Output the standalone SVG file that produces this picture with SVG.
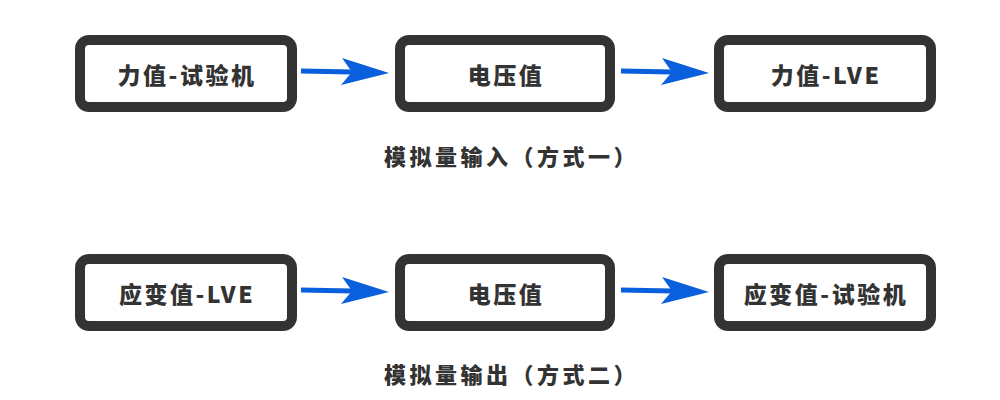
<svg xmlns="http://www.w3.org/2000/svg" width="1000" height="400" viewBox="0 0 1000 400">
<style>
.box{fill:#fff;stroke:#333;stroke-width:10}
.lbl{font-family:"Noto Sans CJK SC","Noto Sans",sans-serif;font-weight:900;font-size:23px;fill:#333;text-anchor:middle;dominant-baseline:central;letter-spacing:2.5px}
.cap{font-family:"Noto Sans CJK SC","Noto Sans",sans-serif;font-weight:900;font-size:22px;fill:#333;text-anchor:middle;dominant-baseline:central;letter-spacing:3.5px}
.ln{stroke:#0a5fdc;stroke-width:5;fill:none}
.ah{fill:#0a5fdc}
</style>
<rect width="1000" height="400" fill="#fff"/>
<g id="n1"><rect class="box" x="80" y="40" width="212" height="67" rx="9"/><text class="lbl" x="187" y="74">力值-试验机</text></g>
<g id="n2"><rect class="box" x="400" y="40" width="210" height="67" rx="9"/><text class="lbl" x="506" y="74">电压值</text></g>
<g id="n3"><rect class="box" x="719" y="40" width="212" height="67" rx="9"/><text class="lbl" x="826" y="74">力值-LVE</text></g>
<g id="n4"><rect class="box" x="80" y="259" width="212" height="67" rx="9"/><text class="lbl" x="187" y="293">应变值-LVE</text></g>
<g id="n5"><rect class="box" x="400" y="259" width="210" height="67" rx="9"/><text class="lbl" x="506" y="293">电压值</text></g>
<g id="n6"><rect class="box" x="719" y="259" width="212" height="67" rx="9"/><text class="lbl" x="826" y="293">应变值-试验机</text></g>
<g id="captions">
<text class="cap" x="511.5" y="155">模拟量输入（方式一）</text>
<text class="cap" x="511.5" y="373">模拟量输出（方式二）</text>
</g>
<g id="connectors">
<line class="ln" x1="301" y1="71" x2="352" y2="72"/>
<path class="ah" d="M342,58 L389,73 L341,85 L352,72 Z"/>
<line class="ln" x1="621" y1="71" x2="672" y2="72"/>
<path class="ah" d="M662,58 L709,73 L661,85 L672,72 Z"/>
<line class="ln" x1="301" y1="290" x2="352" y2="291"/>
<path class="ah" d="M342,277 L389,292 L341,304 L352,291 Z"/>
<line class="ln" x1="621" y1="290" x2="672" y2="291"/>
<path class="ah" d="M662,277 L709,292 L661,304 L672,291 Z"/>
</g>
</svg>
